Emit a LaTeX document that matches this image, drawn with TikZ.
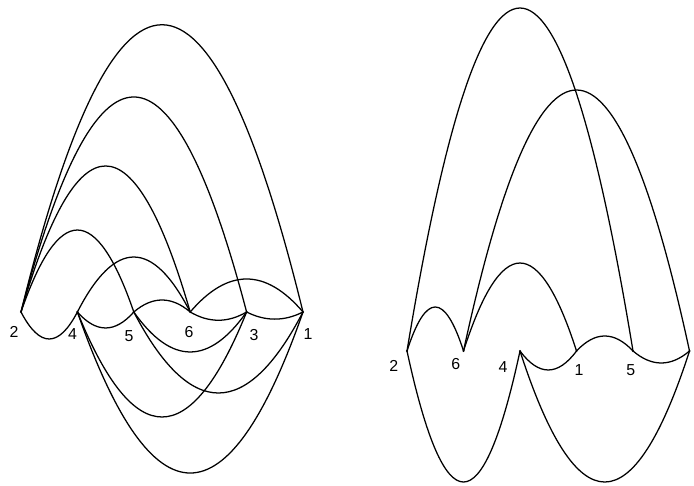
\documentclass[tikz,border=0pt]{standalone}
\usepackage{fontspec}
\setmainfont{Liberation Sans}
\begin{document}
\begin{tikzpicture}[x=0.025cm, y=0.025cm, line width=0.9pt,
    lbl/.style={font=\fontsize{11.3}{13}\selectfont, inner sep=0pt}]
    \useasboundingbox (0,0) rectangle (694,485);
    % left drawing: the vertices 2 4 5 6 3 1 on one line
    \coordinate (l2) at (21,173);
    \coordinate (l4) at (77.4,173);
    \coordinate (l5) at (133.8,173);
    \coordinate (l6) at (190.2,173);
    \coordinate (l3) at (246.6,173);
    \coordinate (l1) at (303,173);
    \foreach \v in {l2,l4,l5,l6,l3,l1} \fill (\v) circle(1.2);
    \node[lbl] (tl2) at (14,153.3) {2};
    \node[lbl] (tl4) at (72.5,151.2) {4};
    \node[lbl] (tl5) at (129,149.2) {5};
    \node[lbl] (tl6) at (189,153.3) {6};
    \node[lbl] (tl3) at (254,150) {3};
    \node[lbl] (tl1) at (308,151) {1};
    % arcs above
    \draw (l2) .. controls +(94,383) and +(-94,383) .. (l1);
    \draw (l2) .. controls +(75.2,286.7) and +(-75.2,286.7) .. (l3);
    \draw (l2) .. controls +(56.4,194.7) and +(-56.4,194.7) .. (l6);
    \draw (l2) .. controls +(37.6,109.3) and +(-37.6,109.3) .. (l5);
    \draw (l4) .. controls +(37.6,73.3) and +(-37.6,73.3) .. (l6);
    \draw (l5) .. controls +(18.8,16) and +(-18.8,16) .. (l6);
    \draw (l6) .. controls +(37.6,44) and +(-37.6,44) .. (l1);
    % arcs below
    \draw (l2) .. controls +(18.8,-36) and +(-18.8,-36) .. (l4);
    \draw (l4) .. controls +(18.8,-21.3) and +(-18.8,-21.3) .. (l5);
    \draw (l6) .. controls +(18.8,-11) and +(-18.8,-11) .. (l3);
    \draw (l3) .. controls +(18.8,-9.5) and +(-18.8,-9.5) .. (l1);
    \draw (l5) .. controls +(37.6,-53.3) and +(-37.6,-53.3) .. (l3);
    \draw (l5) .. controls +(56.4,-108) and +(-56.4,-108) .. (l1);
    \draw (l4) .. controls +(56.4,-140) and +(-56.4,-140) .. (l3);
    \draw (l4) .. controls +(75.2,-214.7) and +(-75.2,-214.7) .. (l1);
    % right drawing: the vertices 2 6 4 1 5 3 on one line
    \coordinate (r2) at (407,134);
    \coordinate (r6) at (463.5,134);
    \coordinate (r4) at (520,134);
    \coordinate (r1) at (576.5,134);
    \coordinate (r5) at (633,134);
    \coordinate (r3) at (689.5,134);
    \foreach \v in {r2,r6,r4,r1,r5,r3} \fill (\v) circle(1.2);
    \node[lbl] (tr2) at (393.7,119) {2};
    \node[lbl] (tr6) at (455.8,121) {6};
    \node[lbl] (tr4) at (503,118) {4};
    \node[lbl] (tr1) at (579,114.5) {1};
    \node[lbl] (tr5) at (630.8,114.5) {5};
    \node[lbl] (tr3) at (698,114.5) {3};
    % arcs above
    \draw (r2) .. controls +(18.8,58.7) and +(-18.8,58.7) .. (r6);
    \draw (r2) .. controls +(75.3,457.3) and +(-75.3,457.3) .. (r5);
    \draw (r6) .. controls +(75.3,348) and +(-75.3,348) .. (r3);
    \draw (r6) .. controls +(37.7,117.3) and +(-37.7,117.3) .. (r1);
    \draw (r1) .. controls +(18.8,20) and +(-18.8,20) .. (r5);
    % arcs below
    \draw (r4) .. controls +(18.8,-25.3) and +(-18.8,-25.3) .. (r1);
    \draw (r5) .. controls +(18.8,-16) and +(-18.8,-16) .. (r3);
    \draw (r2) .. controls +(37.7,-174.7) and +(-37.7,-174.7) .. (r4);
    \draw (r4) .. controls +(56.5,-174.7) and +(-56.5,-174.7) .. (r3);
\end{tikzpicture}
\end{document}
